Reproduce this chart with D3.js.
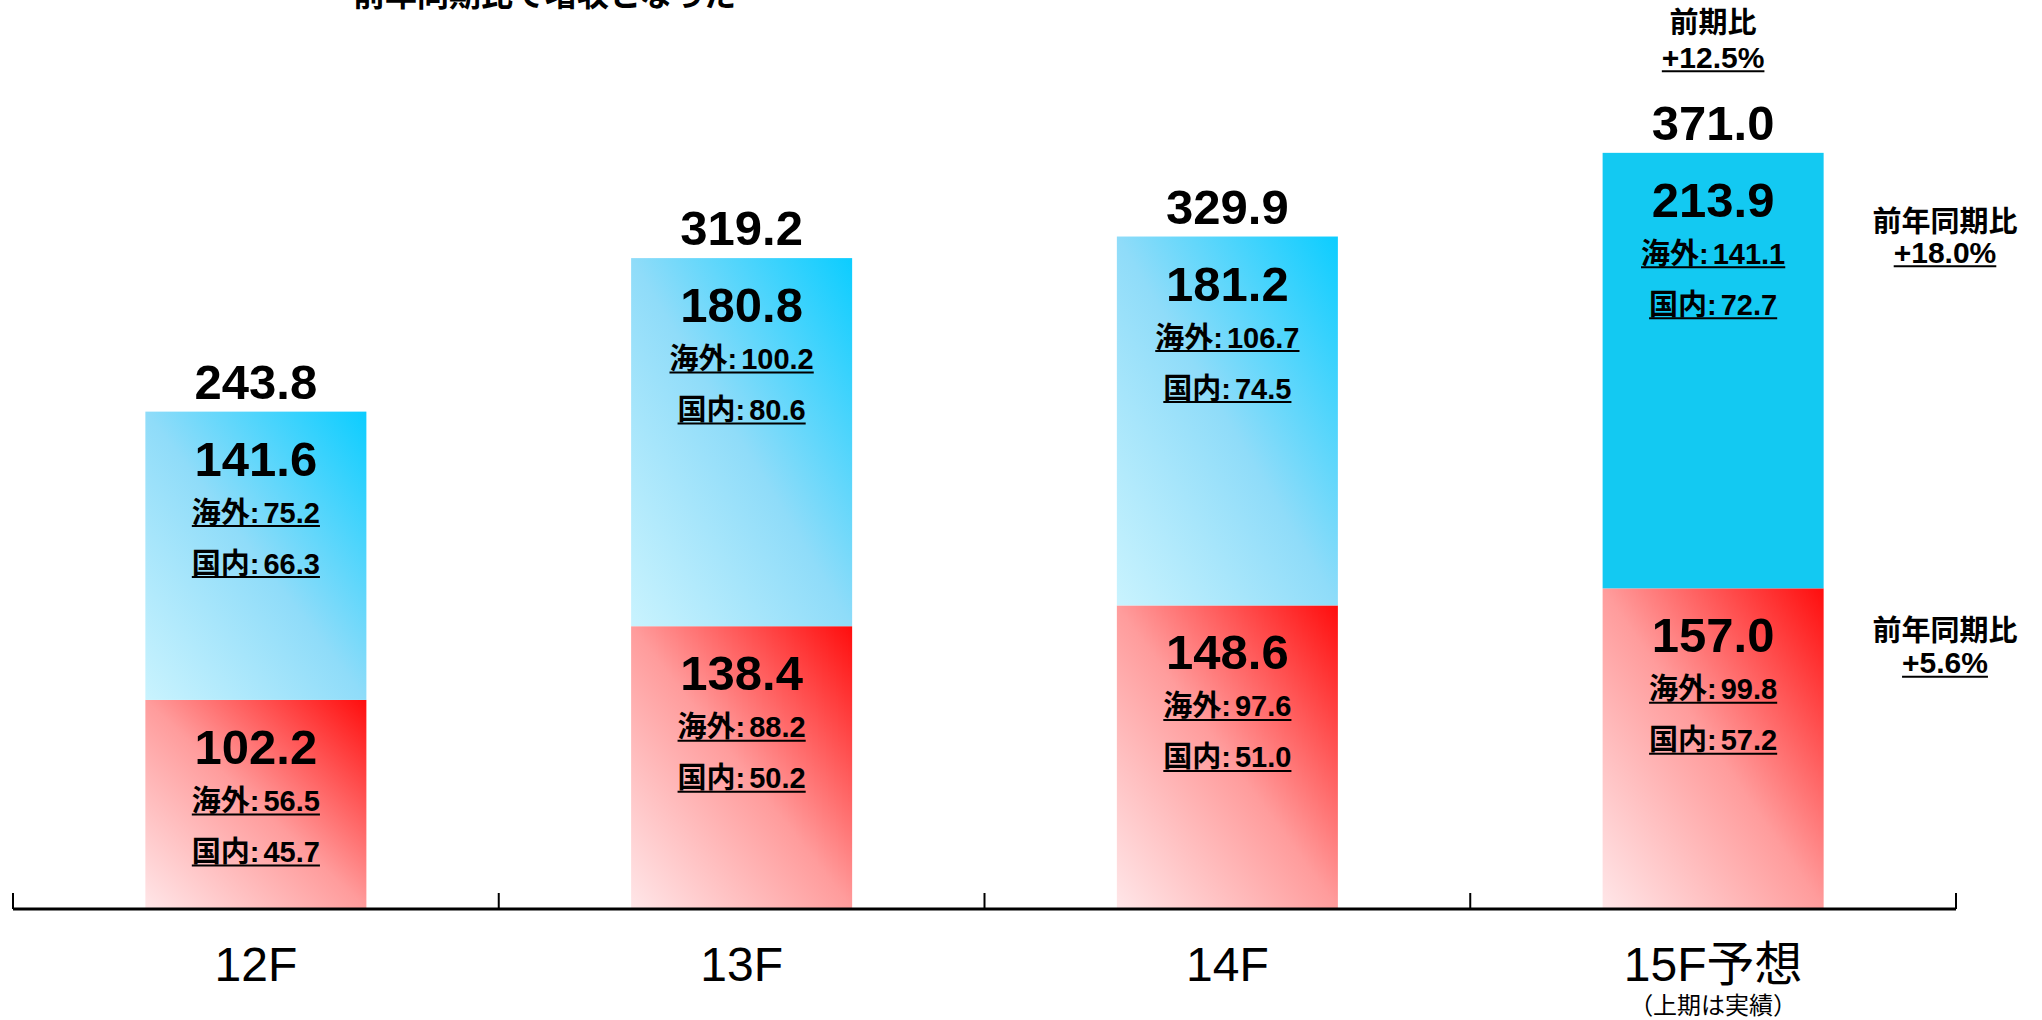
<!DOCTYPE html>
<html>
<head>
<meta charset="utf-8">
<script src="https://cdn.jsdelivr.net/npm/d3@7"></script>
<style>
  html, body { margin: 0; padding: 0; background: #ffffff; }
  svg { display: block; }
  text { font-family: "Liberation Sans", Arial, "Noto Sans CJK JP", sans-serif; fill: #000; }
</style>
</head>
<body>
<svg id="chart" width="2042" height="1020"></svg>
<script>
// ---- data ----
const categories = ["12F", "13F", "14F", "15F予想"];
const lowerTotal = [102.2, 138.4, 148.6, 157.0];      // red segment
const lowerOverseas = [56.5, 88.2, 97.6, 99.8];
const lowerDomestic = [45.7, 50.2, 51.0, 57.2];
const upperTotal = [141.6, 180.8, 181.2, 213.9];      // blue segment
const upperOverseas = [75.2, 100.2, 106.7, 141.1];
const upperDomestic = [66.3, 80.6, 74.5, 72.7];
const yearTotal = [243.8, 319.2, 329.9, 371.0];
const titleText = "前年同期比で増収となった";
const subCaption = "（上期は実績）";
const prevPeriodLabel = ["前期比", "+12.5%"];
const upperYoY = ["前年同期比", "+18.0%"];
const lowerYoY = ["前年同期比", "+5.6%"];

const fmt = d3.format(".1f");

const svg = d3.select("#chart");

const x = d3.scaleBand().domain(categories).range([13, 1956]).padding(0);
const y = d3.scaleLinear().domain([0, 400]).range([908, 908 - 400 * 2.036]);
const barW = x.bandwidth() * 0.455;
const cx = c => x(c) + x.bandwidth() / 2;

// gradients
const defs = svg.append("defs");
const gBlue = defs.append("linearGradient").attr("id", "gBlue")
  .attr("x1", 1).attr("y1", 0).attr("x2", 0).attr("y2", 1);
gBlue.append("stop").attr("offset", 0).attr("stop-color", "#0ccdff");
gBlue.append("stop").attr("offset", 0.5).attr("stop-color", "#8fdcf9");
gBlue.append("stop").attr("offset", 1).attr("stop-color", "#c9f3fe");
const gRed = defs.append("linearGradient").attr("id", "gRed")
  .attr("x1", 1).attr("y1", 0).attr("x2", 0).attr("y2", 1);
gRed.append("stop").attr("offset", 0).attr("stop-color", "#ff0d0d");
gRed.append("stop").attr("offset", 0.5).attr("stop-color", "#ff9c9c");
gRed.append("stop").attr("offset", 1).attr("stop-color", "#ffe6e8");

const rows = categories.map((c, i) => ({
  c, i,
  lo: lowerTotal[i], loO: lowerOverseas[i], loD: lowerDomestic[i],
  up: upperTotal[i], upO: upperOverseas[i], upD: upperDomestic[i],
  tot: yearTotal[i]
}));

// bars
const bars = svg.append("g");
bars.selectAll("rect.lo").data(rows).join("rect")
  .attr("x", d => cx(d.c) - barW / 2)
  .attr("width", barW)
  .attr("y", d => y(d.lo))
  .attr("height", d => y(0) - y(d.lo))
  .attr("fill", "url(#gRed)");
bars.selectAll("rect.up").data(rows).join("rect")
  .attr("x", d => cx(d.c) - barW / 2)
  .attr("width", barW)
  .attr("y", d => y(d.lo + d.up))
  .attr("height", d => y(d.lo) - y(d.lo + d.up))
  .attr("fill", d => d.i === 3 ? "#13c9f2" : "url(#gBlue)");

// helper for underlined text
function underlined(g, tx, ty, str, size, off) {
  const t = g.append("text").attr("x", tx).attr("y", ty)
    .attr("text-anchor", "middle").attr("font-weight", "bold")
    .attr("font-size", size).text(str);
  const bb = t.node().getBBox();
  g.append("line").attr("x1", bb.x).attr("x2", bb.x + bb.width)
    .attr("y1", ty + off).attr("y2", ty + off)
    .attr("stroke", "#000").attr("stroke-width", 2);
  return t;
}
function subLabel(g, tx, ty, head, val) {
  const t = g.append("text").attr("x", tx).attr("y", ty)
    .attr("text-anchor", "middle").attr("font-weight", "bold")
    .attr("font-size", 29);
  t.append("tspan").text(head + ":");
  t.append("tspan").attr("dx", 4).text(fmt(val));
  const bb = t.node().getBBox();
  g.append("line").attr("x1", bb.x).attr("x2", bb.x + bb.width)
    .attr("y1", ty + 3.5).attr("y2", ty + 3.5)
    .attr("stroke", "#000").attr("stroke-width", 2);
}

const labels = svg.append("g");
rows.forEach(d => {
  const mx = cx(d.c);
  const topLo = y(d.lo), topUp = y(d.lo + d.up);
  // total
  labels.append("text").attr("x", mx).attr("y", topUp - 13)
    .attr("text-anchor", "middle").attr("font-weight", "bold")
    .attr("font-size", 49).text(fmt(d.tot));
  // upper segment
  labels.append("text").attr("x", mx).attr("y", topUp + 64)
    .attr("text-anchor", "middle").attr("font-weight", "bold")
    .attr("font-size", 49).text(fmt(d.up));
  subLabel(labels, mx, topUp + 111, "海外", d.upO);
  subLabel(labels, mx, topUp + 162, "国内", d.upD);
  // lower segment
  labels.append("text").attr("x", mx).attr("y", topLo + 64)
    .attr("text-anchor", "middle").attr("font-weight", "bold")
    .attr("font-size", 49).text(fmt(d.lo));
  subLabel(labels, mx, topLo + 111, "海外", d.loO);
  subLabel(labels, mx, topLo + 162, "国内", d.loD);
});

// annotations for forecast bar
const last = rows[3];
const lx = cx(last.c);
const totTop = y(last.lo + last.up) - 13;
labels.append("text").attr("x", lx).attr("y", totTop - 107)
  .attr("text-anchor", "middle").attr("font-weight", "bold")
  .attr("font-size", 29).text(prevPeriodLabel[0]);
underlined(labels, lx, totTop - 72, prevPeriodLabel[1], 30, 3.5);

const ax = 1945;
labels.append("text").attr("x", ax).attr("y", y(last.lo + last.up) + 79)
  .attr("text-anchor", "middle").attr("font-weight", "bold")
  .attr("font-size", 29).text(upperYoY[0]);
underlined(labels, ax, y(last.lo + last.up) + 110, upperYoY[1], 30, 3.5);
labels.append("text").attr("x", ax).attr("y", y(last.lo) + 53)
  .attr("text-anchor", "middle").attr("font-weight", "bold")
  .attr("font-size", 29).text(lowerYoY[0]);
underlined(labels, ax, y(last.lo) + 85, lowerYoY[1], 30, 3.5);

// axis
const axisG = svg.append("g");
const [r0, r1] = x.range();
axisG.append("line").attr("x1", r0).attr("x2", r1)
  .attr("y1", y(0) + 1).attr("y2", y(0) + 1)
  .attr("stroke", "#000").attr("stroke-width", 3);
const bounds = categories.map(c => x(c)).concat([r1]);
axisG.selectAll("line.tick").data(bounds).join("line")
  .attr("x1", d => d).attr("x2", d => d)
  .attr("y1", y(0) + 1).attr("y2", y(0) - 15)
  .attr("stroke", "#000").attr("stroke-width", 2);

axisG.selectAll("text.cat").data(categories).join("text")
  .attr("x", d => cx(d)).attr("y", 981)
  .attr("text-anchor", "middle").attr("font-size", 48)
  .text(d => d);
axisG.append("text").attr("x", cx(categories[3])).attr("y", 1014)
  .attr("text-anchor", "middle").attr("font-size", 24)
  .text(subCaption);

// cut-off title at top
svg.append("text").attr("x", 353).attr("y", 6)
  .attr("font-weight", "bold").attr("font-size", 32)
  .text(titleText);
</script>
</body>
</html>
